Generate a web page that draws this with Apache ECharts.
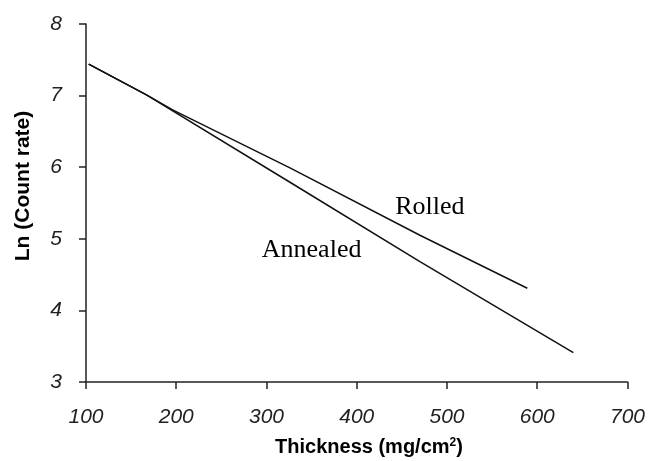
<!DOCTYPE html>
<html>
<head>
<meta charset="utf-8">
<script src="https://cdn.jsdelivr.net/npm/echarts@6/dist/echarts.min.js"></script>
<style>
  html, body { margin: 0; padding: 0; background: #fff; }
  #chart { width: 648px; height: 461px; }
</style>
</head>
<body>
<div id="chart"></div>
<script>
// thickness (mg/cm2) vs ln(count rate)
const rolledX = [103, 167, 196, 326, 470, 589];
const rolledY = [7.44, 7.01, 6.80, 5.99, 5.05, 4.31];
const annealedX = [103, 167, 326, 470, 640];
const annealedY = [7.44, 7.01, 5.79, 4.68, 3.41];
const xTicks = [100, 200, 300, 400, 500, 600, 700];
const yTicks = [3, 4, 5, 6, 7, 8];

const pairs = (xs, ys) => xs.map((x, i) => [x, ys[i]]);

let chart = echarts.init(document.getElementById('chart'));

const axisLine = { show: true, lineStyle: { color: '#222', width: 1.5 } };
const tickFont = {
    fontFamily: 'Liberation Sans',
    fontStyle: 'italic',
    fontSize: 21,
    color: '#222'
};

const option = {
    backgroundColor: '#fff',
    animation: false,
    grid: { left: 86, right: 20, top: 24, bottom: 79 },
    xAxis: {
        type: 'value',
        min: xTicks[0],
        max: xTicks[xTicks.length - 1],
        interval: 100,
        axisLine: axisLine,
        axisTick: { show: true, length: 7, lineStyle: { color: '#222', width: 1.5 } },
        splitLine: { show: false },
        axisLabel: Object.assign({ margin: 25 }, tickFont)
    },
    yAxis: {
        type: 'value',
        min: yTicks[0],
        max: yTicks[yTicks.length - 1],
        interval: 1,
        axisLine: axisLine,
        axisTick: { show: true, length: 7, lineStyle: { color: '#222', width: 1.5 } },
        splitLine: { show: false },
        axisLabel: Object.assign({ margin: 24 }, tickFont)
    },
    series: [
        {
            name: 'Rolled',
            type: 'line',
            data: pairs(rolledX, rolledY),
            showSymbol: false,
            lineStyle: { color: '#111', width: 1.5 }
        },
        {
            name: 'Annealed',
            type: 'line',
            data: pairs(annealedX, annealedY),
            showSymbol: false,
            lineStyle: { color: '#111', width: 1.5 }
        }
    ]
};
chart.setOption(option);

// curve labels placed in data coordinates
const rolledPos = chart.convertToPixel({ gridIndex: 0 }, [481, 5.44]);
const annealedPos = chart.convertToPixel({ gridIndex: 0 }, [350, 4.84]);
const serif = { fontFamily: 'Liberation Serif', fontSize: 26, fill: '#000' };

chart.setOption({
    graphic: [
        {
            type: 'text', x: rolledPos[0], y: rolledPos[1],
            style: Object.assign({ text: 'Rolled', align: 'center', verticalAlign: 'middle' }, serif)
        },
        {
            type: 'text', x: annealedPos[0], y: annealedPos[1],
            style: Object.assign({ text: 'Annealed', align: 'center', verticalAlign: 'middle' }, serif)
        },
        {
            type: 'text', x: 23, y: 186, rotation: Math.PI / 2,
            style: {
                text: 'Ln (Count rate)', align: 'center', verticalAlign: 'middle',
                fontFamily: 'Liberation Sans', fontWeight: 'bold', fontSize: 21, fill: '#000'
            }
        },
        {
            type: 'text', x: 369, y: 447,
            style: {
                text: '{a|Thickness (mg/cm}{s|2}{a|)}', align: 'center', verticalAlign: 'middle',
                rich: {
                    a: { fontFamily: 'Liberation Sans', fontWeight: 'bold', fontSize: 20, fill: '#000' },
                    s: { fontFamily: 'Liberation Sans', fontWeight: 'bold', fontSize: 12, fill: '#000', verticalAlign: 'top', padding: [0, 0, 9, 0] }
                }
            }
        }
    ]
});
</script>
</body>
</html>
